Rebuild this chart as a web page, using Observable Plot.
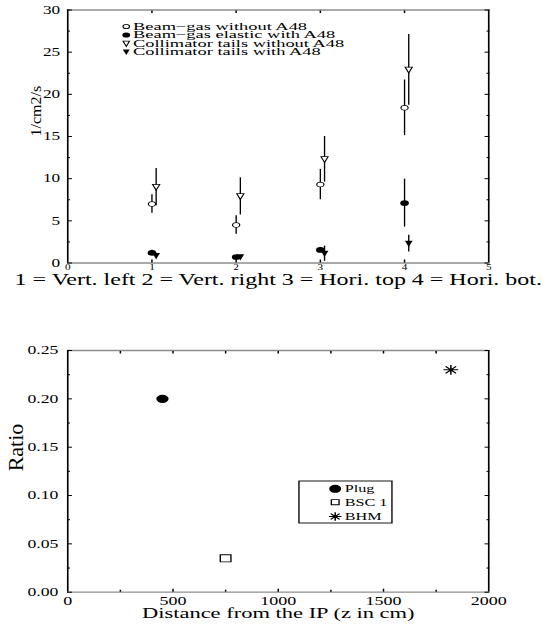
<!DOCTYPE html>
<html><head><meta charset="utf-8">
<script src="https://cdn.jsdelivr.net/npm/d3@7"></script>
<script src="https://cdn.jsdelivr.net/npm/@observablehq/plot@0.6"></script>
<style>
body{margin:0;background:#fff;}
#wrap{width:366px;transform:scaleX(1.5);transform-origin:0 0;}
#wrap svg{display:block;}
</style></head><body><div id="wrap"></div>
<script>
// ---- Top chart data ----
const positions = [1, 2, 3, 4];
const beamGasNoA48 = [7.0, 4.5, 9.3, 18.4];
const beamGasNoA48Err = [1.1, 1.1, 1.8, 3.3];
const beamGasElasticA48 = [1.2, 0.7, 1.55, 7.1];
const beamGasElasticA48Err = [0.3, 0.2, 0.3, 2.85];
const collTailsNoA48 = [9.0, 7.9, 12.3, 22.9];
const collTailsNoA48Err = [2.2, 2.2, 2.7, 4.2];
const collTailsA48 = [0.85, 0.7, 1.1, 2.3];
const collTailsA48Err = [0.3, 0.2, 0.9, 1.0];
const legend1 = ["Beam\u2212gas without A48", "Beam\u2212gas elastic with A48", "Collimator tails without A48", "Collimator tails with A48"];
const xTicks1 = [0, 1, 2, 3, 4, 5];
const yTicks1 = [0, 5, 10, 15, 20, 25, 30];
const yMinor1 = [2.5, 7.5, 12.5, 17.5, 22.5, 27.5];
const caption1 = "1 = Vert. left 2 = Vert. right 3 = Hori. top 4 = Hori. bot.";
const yLabel1 = "1/cm2/s";

// ---- Bottom chart data ----
const detectors = ["Plug", "BSC 1", "BHM"];
const zDistance = [450, 750, 1820];
const ratioValues = [0.200, 0.035, 0.230];
const xTicks2 = [0, 500, 1000, 1500, 2000];
const xMinor2 = [250, 750, 1250, 1750];
const yTicks2 = [0, 0.05, 0.10, 0.15, 0.20, 0.25];
const yMinor2 = [0.025, 0.075, 0.125, 0.175, 0.225];
const xLabel2 = "Distance from the IP (z in cm)";
const yLabel2 = "Ratio";

const FONT = "Liberation Serif, Times New Roman, serif";
const triangleDown = {draw(ctx, size) {
  const r = Math.sqrt(size / Math.PI);
  ctx.moveTo(0, 1.05 * r); ctx.lineTo(-0.8 * r, -0.9 * r); ctx.lineTo(0.8 * r, -0.9 * r); ctx.closePath();
}};
const star8 = {draw(ctx, size) {
  const r = Math.sqrt(size / Math.PI);
  for (let k = 0; k < 4; k++) {
    const a = k * Math.PI / 4, c = Math.cos(a) * r, s = Math.sin(a) * r;
    ctx.moveTo(-c, -s); ctx.lineTo(c, s);
  }
}};

const rows = (vals, errs) => positions.map((p, i) => ({x: p, y: vals[i], e: errs[i]}));
const series1 = [
  {label: legend1[0], data: rows(beamGasNoA48, beamGasNoA48Err), dx: 0, symbol: "circle", r: 2.4, fill: "white", stroke: "black"},
  {label: legend1[1], data: rows(beamGasElasticA48, beamGasElasticA48Err), dx: 0, symbol: "circle", r: 2.9, fill: "black", stroke: "none"},
  {label: legend1[2], data: rows(collTailsNoA48, collTailsNoA48Err), dx: 2.8, symbol: triangleDown, r: 3, fill: "white", stroke: "black"},
  {label: legend1[3], data: rows(collTailsA48, collTailsA48Err), dx: 2.8, symbol: triangleDown, r: 3.2, fill: "black", stroke: "none"}
];

function frameAndAxes(xd, yd, xt, xm, yt, ym, xfmt, yfmt, xFont, yFont, xPad, yPad) {
  return [
    Plot.ruleY(yd, {stroke: "#8c8c8c", strokeWidth: 1.3}),
    Plot.ruleX(xd, {stroke: "black", strokeWidth: 1.1}),
    Plot.axisY({ticks: yt, tickSize: 0, tickPadding: yPad, tickFormat: yfmt, fontSize: yFont, fontFamily: FONT, label: null}),
    Plot.axisY({ticks: yt, tickSize: -3.3, tickFormat: () => "", label: null}),
    Plot.axisY({ticks: ym, tickSize: -2, tickFormat: () => "", label: null}),
    Plot.axisY({anchor: "right", ticks: yt, tickSize: -3.3, tickFormat: () => "", label: null}),
    Plot.axisY({anchor: "right", ticks: ym, tickSize: -2, tickFormat: () => "", label: null}),
    Plot.axisX({ticks: xt, tickSize: 0, tickPadding: xPad, tickFormat: xfmt, fontSize: xFont, fontFamily: FONT, label: null}),
    Plot.axisX({ticks: xt.slice(1, -1), tickSize: -3, tickFormat: () => "", label: null}),
    Plot.axisX({ticks: xm, tickSize: -2, tickFormat: () => "", label: null}),
    Plot.axisX({anchor: "top", ticks: xm.concat(xt.slice(1, -1)), tickSize: -2.5, tickFormat: () => "", label: null})
  ];
}

const marks1 = [
  ...frameAndAxes([0, 5], [0, 30], xTicks1, [], yTicks1, yMinor1, d3.format("d"), d3.format("d"), 7.5, 11.5, 1.2, 5.1),
  Plot.text([caption1], {frameAnchor: "bottom", lineAnchor: "middle", dy: 17, text: d => d, fontSize: 16, fontFamily: FONT}),
  Plot.text([yLabel1], {frameAnchor: "left", lineAnchor: "middle", dx: -21.3, rotate: -90, text: d => d, fontSize: 16, fontFamily: FONT, className: "ylab"})
];
for (const s of series1) {
  marks1.push(Plot.ruleX(s.data, {x: "x", y1: d => d.y - d.e, y2: d => d.y + d.e, dx: s.dx, stroke: "black", strokeWidth: 0.9}));
}
for (const s of series1) {
  marks1.push(Plot.dot(s.data, {x: "x", y: "y", dx: s.dx, symbol: s.symbol, r: s.r, fill: s.fill, stroke: s.stroke, strokeWidth: 0.8}));
}
series1.forEach((s, i) => {
  marks1.push(Plot.dot([s.label], {frameAnchor: "top-left", dx: 39, dy: 16.5 + i * 8.5, symbol: s.symbol, r: s.r * 0.9, fill: s.fill, stroke: s.stroke, strokeWidth: 0.8}));
  marks1.push(Plot.text([s.label], {frameAnchor: "top-left", lineAnchor: "middle", dx: 43.5, dy: 16.5 + i * 8.5, text: d => d, textAnchor: "start", fontSize: 10.5, fontFamily: FONT, className: "leg1"}));
});

const plot1 = Plot.plot({
  width: 366, height: 296,
  marginLeft: 44.67, marginRight: 40.67, marginTop: 9.5, marginBottom: 33.5,
  style: {fontFamily: FONT, background: "white", color: "black"},
  x: {domain: [0, 5], label: null},
  y: {domain: [0, 30], label: null},
  marks: marks1
});

// ---- bottom ----
const detRows = detectors.map((d, i) => ({detector: d, z: zDistance[i], ratio: ratioValues[i]}));
const detStyle = {
  "Plug": {symbol: "circle", r: 4.1, fill: "black", stroke: "none", lr: 4, sw: 0},
  "BSC 1": {symbol: "square", r: 4, fill: "white", stroke: "black", lr: 2.9, sw: 0.9},
  "BHM": {symbol: star8, r: 4.9, fill: "none", stroke: "black", lr: 4.2, sw: 1}
};
const marks2 = [
  ...frameAndAxes([0, 2000], [0, 0.25], xTicks2, xMinor2, yTicks2, yMinor2, d3.format("d"), d3.format(".2f"), 12, 11.8, 4, 6.2),
  Plot.text([xLabel2], {frameAnchor: "bottom", lineAnchor: "middle", dy: 20.5, text: d => d, fontSize: 15, fontFamily: FONT}),
  Plot.text([yLabel2], {frameAnchor: "left", lineAnchor: "middle", dx: -34.5, rotate: -90, text: d => d, fontSize: 22, fontFamily: FONT, className: "ylab"})
];
for (const d of detectors) {
  const st = detStyle[d];
  marks2.push(Plot.dot(detRows.filter(r => r.detector === d), {x: "z", y: "ratio", symbol: st.symbol, r: st.r, fill: st.fill, stroke: st.stroke, strokeWidth: st.sw}));
}
detectors.forEach((d, i) => {
  const st = detStyle[d];
  const dy = [138.3, 151.7, 166][i];
  marks2.push(Plot.dot([d], {frameAnchor: "top-left", dx: 178.3, dy, symbol: st.symbol, r: st.lr, fill: st.fill, stroke: st.stroke, strokeWidth: st.sw}));
  marks2.push(Plot.text([d], {frameAnchor: "top-left", lineAnchor: "middle", dx: 184.6, dy, text: t => t, textAnchor: "start", fontSize: 10.8, fontFamily: FONT}));
});

const plot2 = Plot.plot({
  width: 366, height: 331,
  marginLeft: 44.67, marginRight: 40.67, marginTop: 54, marginBottom: 35.3,
  style: {fontFamily: FONT, background: "white", color: "black"},
  x: {domain: [0, 2000], label: null},
  y: {domain: [0, 0.25], label: null},
  marks: marks2
});
d3.select(plot2).append("rect")
  .attr("x", 199.3).attr("y", 185).attr("width", 62).attr("height", 42)
  .attr("fill", "none").attr("stroke", "black").attr("stroke-width", 0.9);

for (const p of [plot1, plot2]) {
  d3.select(p).selectAll('.ylab text, text.ylab').each(function() {
    const t = this.getAttribute("transform") || "";
    this.setAttribute("transform", t + " scale(1,0.62)");
  });
  d3.select(p).selectAll('.leg1 text, text.leg1').each(function() {
    const t = this.getAttribute("transform") || "";
    this.setAttribute("transform", t + " scale(1.17,1)");
  });
}
const wrap = document.getElementById("wrap");
wrap.append(plot1, plot2);
</script></body></html>
